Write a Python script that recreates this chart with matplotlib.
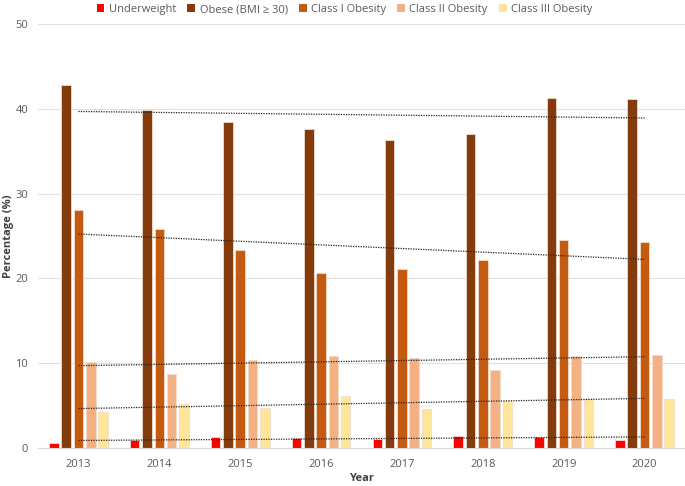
import numpy as np
import matplotlib
matplotlib.use("Agg")
import matplotlib.pyplot as plt
from matplotlib.patches import Patch

plt.rcParams['font.family'] = ['Open Sans', 'DejaVu Sans']

years = ['2013', '2014', '2015', '2016', '2017', '2018', '2019', '2020']
underweight = [0.6, 0.9, 1.3, 1.2, 1.1, 1.4, 1.3, 1.0]
obese = [42.8, 39.8, 38.4, 37.6, 36.3, 37.0, 41.3, 41.2]
class1 = [28.1, 25.8, 23.3, 20.6, 21.1, 22.2, 24.5, 24.3]
class2 = [10.2, 8.7, 10.4, 10.9, 10.6, 9.2, 10.9, 11.0]
class3 = [4.3, 5.2, 4.7, 6.1, 4.6, 5.5, 5.8, 5.8]

series = [
    ('Underweight', underweight, '#FF0000'),
    ('Obese (BMI \u2265 30)', obese, '#843C0C'),
    ('Class I Obesity', class1, '#C55A11'),
    ('Class II Obesity', class2, '#F4B183'),
    ('Class III Obesity', class3, '#FFE699'),
]

fig = plt.figure(figsize=(6.85, 4.86), dpi=100)
ax = fig.add_axes([38/685, 38/486, 647/685, 424/486])

x = np.arange(len(years))
slot = 0.152
width = 0.118
for i, (name, vals, col) in enumerate(series):
    ax.bar(x + (i - 2) * slot, vals, width, color=col, edgecolor='#F2DCCB',
           linewidth=0.6, zorder=2, label=name)

for name, vals, col in series:
    p = np.polyfit(x, vals, 1)
    ax.plot(x, np.polyval(p, x), color='#222222', linestyle=(0, (1, 1)),
            linewidth=0.9, zorder=3)

ax.set_xlim(-0.5, 7.5)
ax.set_ylim(0, 50)
ax.set_yticks([0, 10, 20, 30, 40, 50])
ax.set_xticks(x)
ax.set_xticklabels(years)
ax.grid(axis='y', color='#E0E0E0', linewidth=0.8, zorder=0)
for s in ['top', 'right', 'left']:
    ax.spines[s].set_visible(False)
ax.spines['bottom'].set_color('#D9D9D9')
ax.tick_params(axis='both', length=0, colors='#595959', labelsize=8)
ax.tick_params(axis='x', pad=8)
ax.tick_params(axis='y', pad=7)
ax.set_ylabel('Percentage (%)', fontsize=8, fontweight='bold', color='#404040', labelpad=1)
ax.set_xlabel('Year', fontsize=8, fontweight='bold', color='#404040', labelpad=2)

handles = [Patch(facecolor=c, edgecolor='none') for _, _, c in series]
fig.legend(handles, [n for n, _, _ in series], loc='upper center',
           bbox_to_anchor=(0.503, 1.012), ncol=5, frameon=False, fontsize=8,
           handlelength=0.7, handleheight=0.7, handletextpad=0.4,
           columnspacing=1.0, labelcolor='#595959')

fig.savefig('out.png', dpi=100)
